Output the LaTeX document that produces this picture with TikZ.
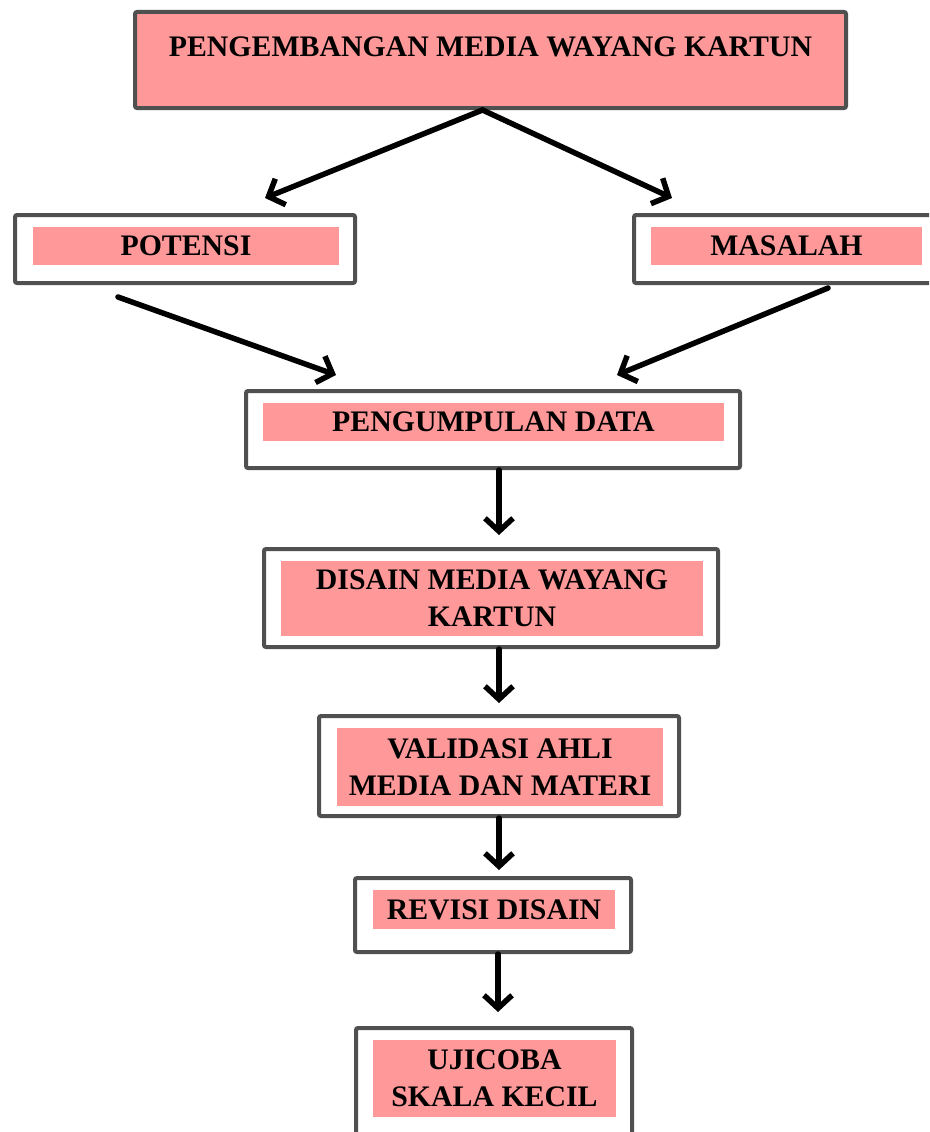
\documentclass[tikz,border=0pt]{standalone}
\usepackage{fontspec}
\setmainfont{Liberation Serif}
\usetikzlibrary{arrows.meta}

\definecolor{pinkfill}{RGB}{255,153,153}
\definecolor{boxgray}{RGB}{80,80,80}

\begin{document}
\begin{tikzpicture}[x=1pt, y=-1pt,
  outer/.style={draw=boxgray, line width=4pt, rounded corners=2pt, inner sep=0pt},
  inner/.style={fill=pinkfill, inner sep=0pt, align=center,
    font=\bfseries\fontsize{29.8}{37}\selectfont},
  arr/.style={-{Straight Barb[length=13pt,width=28pt]}, line width=5.5pt, line cap=round}]
  \useasboundingbox (0,0) rectangle (929,1132);
  \clip (0,0) rectangle (929,1132);
  % top box
  \node[outer, fill=pinkfill, minimum width=711pt, minimum height=96pt] (top) at (490.5,60) {};
  \node[inner, fill=none] (toptxt) at (490.5,47) {PENGEMBANGAN MEDIA WAYANG KARTUN};
  % potensi & masalah
  \node[outer, minimum width=340pt, minimum height=68pt] (pot) at (185,249) {};
  \node[inner, minimum width=306pt, minimum height=38pt] (pottxt) at (186,246) {POTENSI};
  \node[outer, minimum width=320pt, minimum height=68pt] (mas) at (794,249) {};
  \node[inner, minimum width=271pt, minimum height=38pt] (mastxt) at (786.5,246) {MASALAH};
  % steps
  \node[outer, minimum width=494pt, minimum height=77pt] (pg) at (493,429.5) {};
  \node[inner, minimum width=461pt, minimum height=38pt] (pgtxt) at (493.5,422) {PENGUMPULAN DATA};
  \node[outer, minimum width=454pt, minimum height=98pt] (ds) at (491,598) {};
  \node[inner, minimum width=422pt, minimum height=75pt] (dstxt) at (492,598.5) {DISAIN MEDIA WAYANG\\KARTUN};
  \node[outer, minimum width=360pt, minimum height=100pt] (va) at (499,766) {};
  \node[inner, minimum width=326pt, minimum height=78pt] (vatxt) at (500,767) {VALIDASI AHLI\\MEDIA DAN MATERI};
  \node[outer, minimum width=276pt, minimum height=74pt] (rv) at (493,915) {};
  \node[inner, minimum width=242pt, minimum height=39pt] (rvtxt) at (494,909.5) {REVISI DISAIN};
  \node[outer, minimum width=276pt, minimum height=108pt] (uj) at (494,1082) {};
  \node[inner, minimum width=243pt, minimum height=77pt] (ujtxt) at (494.5,1078.5) {UJICOBA\\SKALA KECIL};
  % arrows
  \draw[arr] ([xshift=-8pt]top.south) -- ([xshift=80pt,yshift=15pt]pot.north);
  \draw[arr] ([xshift=-8pt]top.south) -- ([xshift=-122pt,yshift=15pt]mas.north);
  \draw[arr] ([xshift=-67pt,yshift=-12pt]pot.south) -- ([xshift=-157pt,yshift=14pt]pg.north);
  \draw[arr] ([xshift=34pt,yshift=-3pt]mas.south) -- ([xshift=124pt,yshift=14pt]pg.north);
  \draw[arr] ([xshift=6pt]pg.south) -- ([xshift=8pt,yshift=12pt]ds.north);
  \draw[arr] ([xshift=8pt]ds.south) -- ([yshift=11pt]va.north);
  \draw[arr] (va.south) -- ([xshift=6pt,yshift=6pt]rv.north);
  \draw[arr] ([xshift=5pt]rv.south) -- ([xshift=4pt,yshift=14pt]uj.north);
\end{tikzpicture}
\end{document}
